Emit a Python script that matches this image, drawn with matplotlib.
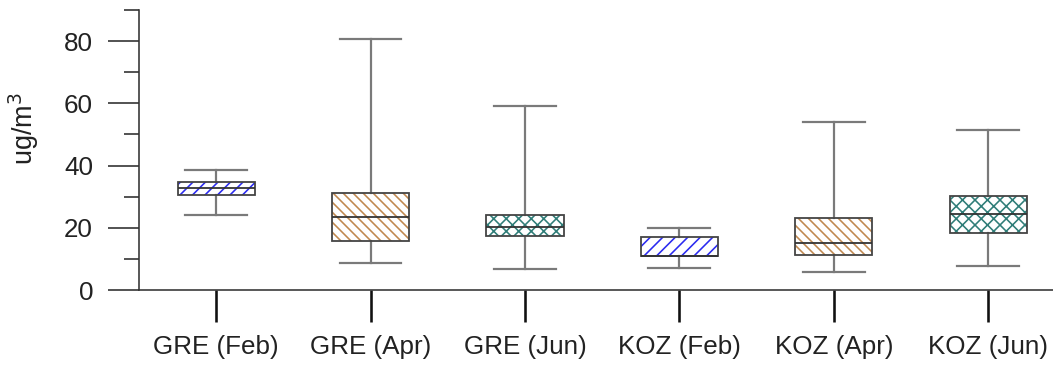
import matplotlib
matplotlib.use("Agg")
import matplotlib.pyplot as plt
from matplotlib.patches import PathPatch

DPI = 150
def pt(px):
    return px * 72.0 / DPI

plt.rcParams['font.family'] = ['Liberation Sans', 'DejaVu Sans']
plt.rcParams['hatch.linewidth'] = pt(1.6)

categories = ["GRE (Feb)", "GRE (Apr)", "GRE (Jun)", "KOZ (Feb)", "KOZ (Apr)", "KOZ (Jun)"]
whisker_low = [24.0, 8.6, 6.8, 7.0, 5.9, 7.8]
q1 = [30.6, 15.6, 17.5, 10.8, 11.1, 18.3]
median = [32.9, 23.4, 20.4, 10.8, 15.0, 24.4]
q3 = [34.7, 31.2, 24.0, 17.0, 23.1, 30.1]
whisker_high = [38.7, 80.6, 59.0, 19.9, 54.0, 51.3]
hatches = ["////", "\\\\\\\\\\", "xxxx", "////", "\\\\\\\\\\", "xxxx"]
hatch_colors = ["#2a2af0", "#c0884f", "#2f7d78", "#2a2af0", "#c0884f", "#2f7d78"]
y_ticks = [0, 20, 40, 60, 80]

fig = plt.figure(figsize=(1053 / DPI, 367 / DPI), dpi=DPI)
ax = fig.add_axes([139 / 1053, 1 - 290 / 367, 1 - 139 / 1053, 280 / 367])

stats = []
for i, c in enumerate(categories):
    stats.append(dict(label=c, whislo=whisker_low[i], q1=q1[i], med=median[i],
                      q3=q3[i], whishi=whisker_high[i], fliers=[]))

positions = list(range(1, len(categories) + 1))
res = ax.bxp(stats, positions=positions, widths=0.5, capwidths=0.4,
             patch_artist=True, showfliers=False,
             whiskerprops=dict(color="#7a7a7a", linewidth=pt(2.2)),
             capprops=dict(color="#7a7a7a", linewidth=pt(2.2)),
             medianprops=dict(color="#333333", linewidth=pt(1.8)),
             boxprops=dict(facecolor="white", linewidth=0))

for box, h, hc in zip(res['boxes'], hatches, hatch_colors):
    box.set_hatch(h)
    box.set_edgecolor(hc)
    box.set_linewidth(0)
    box.set_zorder(2)
    outline = PathPatch(box.get_path(), fill=False, edgecolor="#444444",
                        linewidth=pt(1.8), zorder=3)
    ax.add_patch(outline)
for m in res['medians']:
    m.set_zorder(4)

ax.set_xlim(0.5, 6.42)
ax.set_ylim(0, 90)

for s in ['top', 'right']:
    ax.spines[s].set_visible(False)
ax.spines['left'].set_color("#333333")
ax.spines['left'].set_linewidth(pt(1.6))
ax.spines['bottom'].set_color("#333333")
ax.spines['bottom'].set_linewidth(pt(1.6))

ax.set_yticks(y_ticks)
ax.set_yticks(list(range(10, 91, 20)), minor=True)
ax.tick_params(axis='y', which='major', length=pt(31), width=pt(1.8),
               color="#444444", labelsize=pt(26), pad=pt(15), labelcolor="#222222")
ax.tick_params(axis='y', which='minor', length=pt(15), width=pt(1.8),
               color="#444444")

ax.set_xticks(positions)
ax.set_xticklabels(categories)
ax.tick_params(axis='x', which='major', length=pt(32), width=pt(2.6),
               color="#111111", labelsize=pt(26), pad=pt(13), labelcolor="#222222")

ax.set_ylabel("ug/m$^3$", fontsize=pt(27), color="#222222")
ax.yaxis.set_label_coords(-0.107, 0.575)

fig.savefig("out.png", dpi=DPI)
